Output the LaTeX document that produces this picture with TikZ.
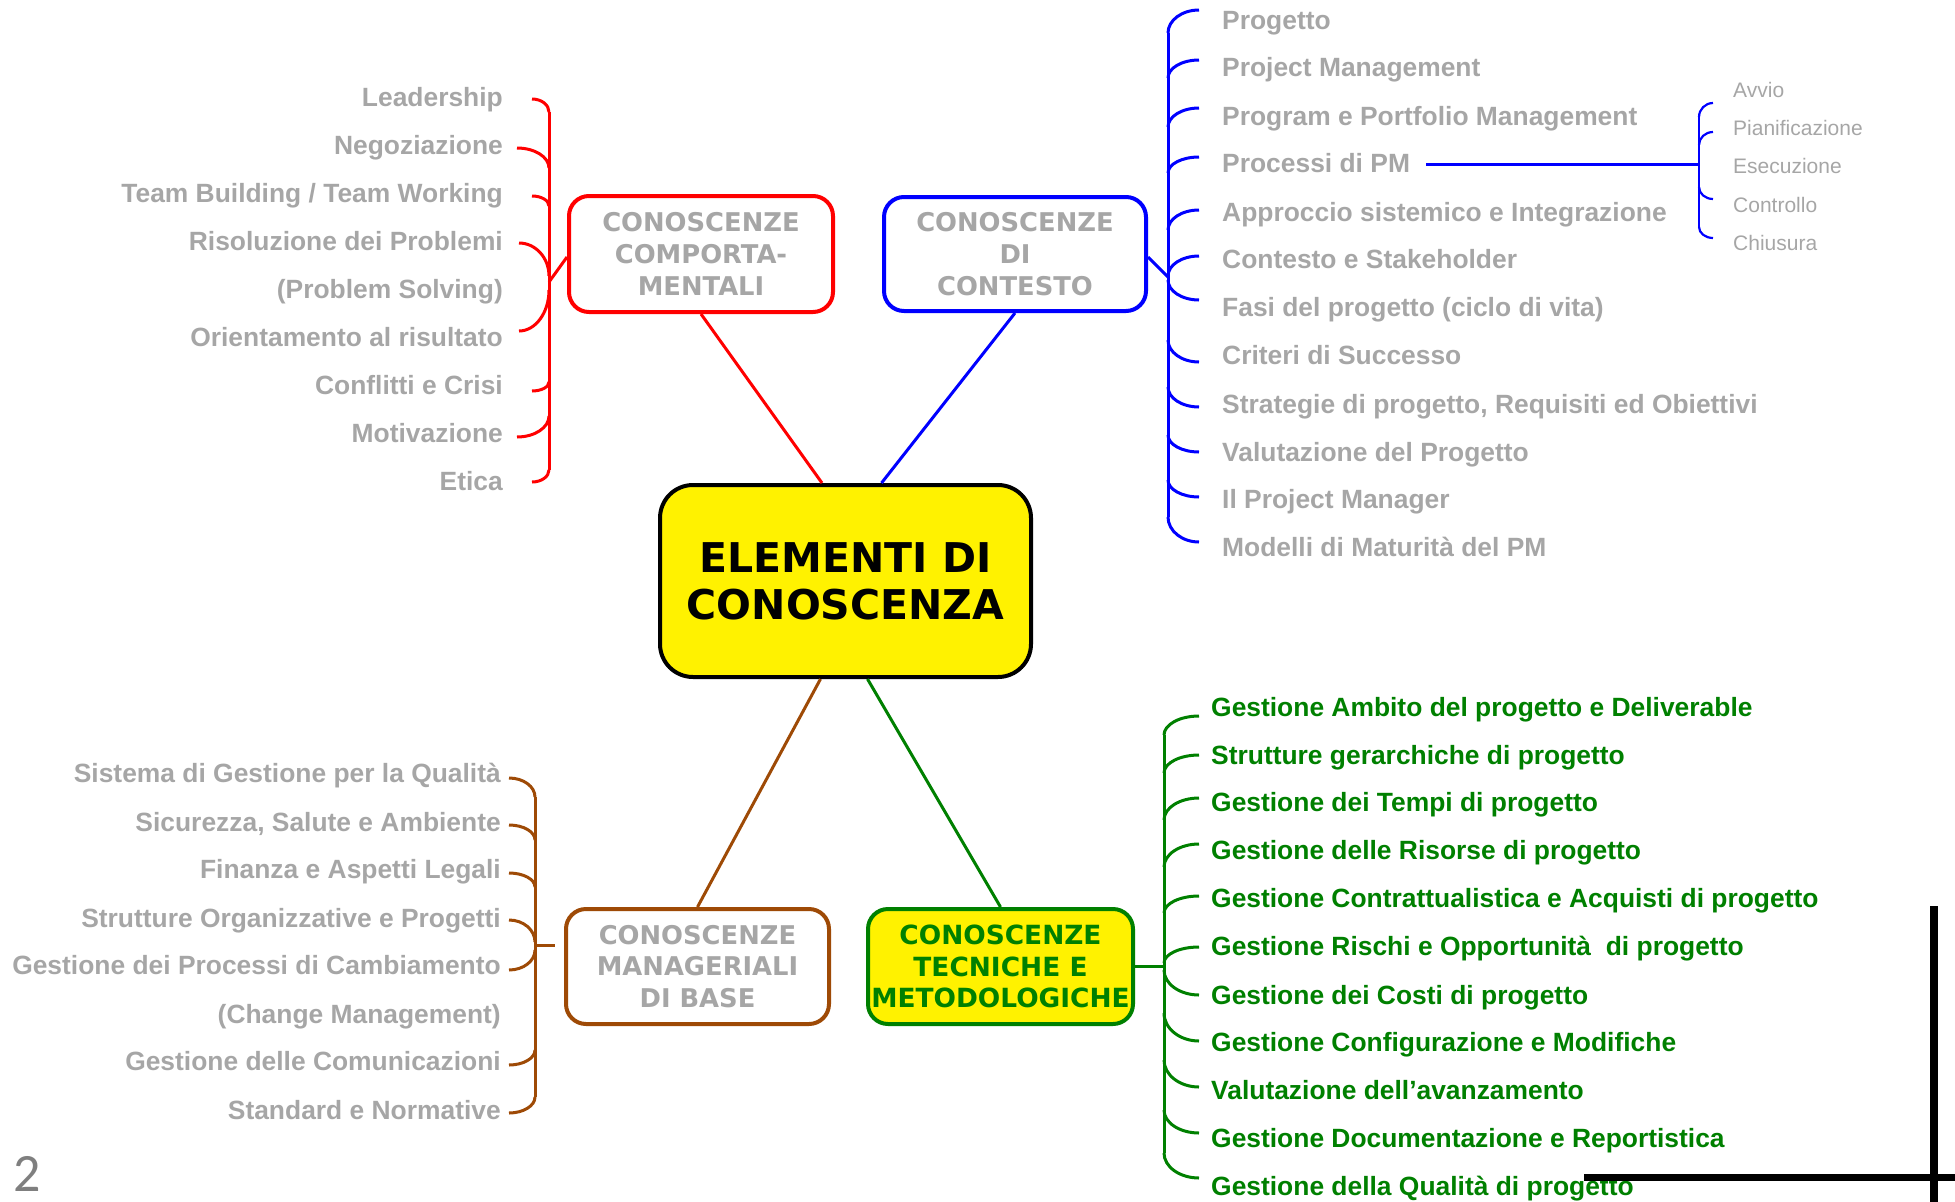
\documentclass[tikz,border=0pt]{standalone}
\usepackage{fontspec}
\setmainfont{Liberation Sans}
\newfontfamily\boxfont{DejaVu Sans}
\newfontfamily\pagefont{Carlito}
\usetikzlibrary{calc}
\definecolor{txtgray}{RGB}{166,166,166}
\definecolor{mgreen}{RGB}{0,128,0}
\definecolor{mbrown}{RGB}{158,74,6}
\definecolor{pgray}{RGB}{127,127,127}
\newcommand\brtick[5]{\draw[brk,#1] (#2,#3) .. controls (#2,{#3+0.552*(#5-#3)}) and ({#4+0.552*(#2-#4)},#5) .. (#4,#5);}
\begin{document}
\begin{tikzpicture}[x=1pt,y=-1pt,
  box/.style={draw, line width=4pt, rounded corners=20pt, fill=white, align=center, inner sep=0pt,
    font=\boxfont\bfseries\fontsize{25.8}{31.7}\selectfont, text=txtgray},
  item/.style={inner sep=0pt, text height=19pt, text depth=0pt,
    font=\bfseries\fontsize{26.4}{30}\selectfont, text=txtgray},
  ritem/.style={item, anchor=east},
  litem/.style={item, anchor=west},
  gitem/.style={item, anchor=west, text=mgreen},
  subitem/.style={inner sep=0pt, text height=15pt, text depth=0pt, anchor=west,
    font=\fontsize{21}{24}\selectfont, text=txtgray},
  brk/.style={line width=3pt},
  sbrk/.style={line width=2.2pt},
  link/.style={line width=3pt},
]
\useasboundingbox (0,0) rectangle (1955,1202);

% ---------------- boxes
\node[box, draw=black, fill=yellow, rounded corners=33pt, minimum width=371pt, minimum height=192pt,
  text=black, font=\boxfont\bfseries\fontsize{41}{47}\selectfont] (main) at (845.5,581) {ELEMENTI DI\\CONOSCENZA};
\node[box, draw=red, minimum width=264pt, minimum height=116pt] (beh) at (701,254) {CONOSCENZE\\COMPORTA-\\MENTALI};
\node[box, draw=blue, minimum width=262pt, minimum height=114pt] (ctx) at (1015,254) {CONOSCENZE\\DI\\CONTESTO};
\node[box, draw=mbrown, minimum width=263pt, minimum height=115pt] (man) at (697.5,966.5) {CONOSCENZE\\MANAGERIALI\\DI BASE};
\node[box, draw=mgreen, fill=yellow, text=mgreen, minimum width=265pt, minimum height=115pt,
  font=\boxfont\bfseries\fontsize{26.4}{31.7}\selectfont] (tec) at (1000.5,966.5) {CONOSCENZE\\TECNICHE E\\METODOLOGICHE};

% ---------------- links to centre
\draw[link,red] (beh.south) -- ([xshift=-23.5pt]main.north);
\draw[link,blue] (ctx.south) -- ([xshift=36pt]main.north);
\draw[link,mbrown] (man.north) -- ([xshift=-25pt]main.south);
\draw[link,mgreen] (tec.north) -- ([xshift=22pt]main.south);

% ---------------- red group
\node[ritem] (r1) at (503,97) {Leadership};
\node[ritem] (r2) at (503,145) {Negoziazione};
\node[ritem] (r3) at (503,193) {Team Building / Team Working};
\node[ritem] (r4) at (503,241) {Risoluzione dei Problemi};
\node[ritem] (r5) at (503,289) {(Problem Solving)};
\node[ritem] (r6) at (503,337) {Orientamento al risultato};
\node[ritem] (r7) at (503,385) {Conflitti e Crisi};
\node[ritem] (r8) at (503,433) {Motivazione};
\node[ritem] (r9) at (503,481) {Etica};
\coordinate (redJ) at (549,282);
\draw[link,red] ([yshift=-3pt]beh.west) -- (redJ);
\draw[brk,red] (549,112) -- (549,470);
\brtick{red}{549}{112}{532}{99}
\brtick{red}{549}{168}{517}{148}
\brtick{red}{549}{206}{532}{196}
\brtick{red}{549}{276}{519}{243}
\brtick{red}{549}{290}{519}{331}
\brtick{red}{549}{382}{532}{391}
\brtick{red}{549}{416}{517}{437}
\brtick{red}{549}{470}{532}{482}

% ---------------- blue group
\node[litem] (b1) at (1222,20) {Progetto};
\node[litem] (b2) at (1222,67) {Project Management};
\node[litem] (b3) at (1222,116) {Program e Portfolio Management};
\node[litem] (b4) at (1222,163) {Processi di PM};
\node[litem] (b5) at (1222,212) {Approccio sistemico e Integrazione};
\node[litem] (b6) at (1222,259) {Contesto e Stakeholder};
\node[litem] (b7) at (1222,307) {Fasi del progetto (ciclo di vita)};
\node[litem] (b8) at (1222,355) {Criteri di Successo};
\node[litem] (b9) at (1222,404) {Strategie di progetto, Requisiti ed Obiettivi};
\node[litem] (b10) at (1222,452) {Valutazione del Progetto};
\node[litem] (b11) at (1222,499) {Il Project Manager};
\node[litem] (b12) at (1222,547) {Modelli di Maturità del PM};
\coordinate (blueJ) at (1168,277);
\draw[link,blue] ([yshift=-3pt]ctx.east) -- (blueJ);
\draw[brk,blue] (1168,33) -- (1168,517);
\brtick{blue}{1168}{33}{1199}{10}
\brtick{blue}{1168}{78}{1199}{60}
\brtick{blue}{1168}{127}{1199}{108}
\brtick{blue}{1168}{173}{1199}{157}
\brtick{blue}{1168}{230}{1199}{210}
\brtick{blue}{1168}{276}{1199}{256}
\brtick{blue}{1168}{280}{1199}{300}
\brtick{blue}{1168}{340}{1199}{362}
\brtick{blue}{1168}{387}{1199}{407}
\brtick{blue}{1168}{435}{1199}{452}
\brtick{blue}{1168}{480}{1199}{497}
\brtick{blue}{1168}{517}{1199}{542}

% ---------------- sub group (Processi di PM)
\node[subitem] (s1) at (1733,90) {Avvio};
\node[subitem] (s2) at (1733,128) {Pianificazione};
\node[subitem] (s3) at (1733,166) {Esecuzione};
\node[subitem] (s4) at (1733,205) {Controllo};
\node[subitem] (s5) at (1733,243) {Chiusura};
\coordinate (subJ) at (1699,164);
\draw[link,blue] ($(subJ -| b4.east)+(16,0)$) -- (subJ);
\draw[sbrk,blue] (1699,117) -- (1699,227);
\begin{scope}[brk/.style={sbrk}]
\brtick{blue}{1699}{117}{1713}{103}
\brtick{blue}{1699}{145}{1713}{132}
\brtick{blue}{1699}{187}{1713}{199}
\brtick{blue}{1699}{227}{1713}{238}
\end{scope}

% ---------------- brown group
\node[ritem] (m1) at (501,773) {Sistema di Gestione per la Qualità};
\node[ritem] (m2) at (501,821.5) {Sicurezza, Salute e Ambiente};
\node[ritem] (m3) at (501,869) {Finanza e Aspetti Legali};
\node[ritem] (m4) at (501,917.5) {Strutture Organizzative e Progetti};
\node[ritem] (m5) at (501,965) {Gestione dei Processi di Cambiamento};
\node[ritem] (m6) at (501,1013.5) {(Change Management)};
\node[ritem] (m7) at (501,1061) {Gestione delle Comunicazioni};
\node[ritem] (m8) at (501,1110) {Standard e Normative};
\coordinate (brownJ) at (535,945);
\draw[brk,mbrown] (brownJ) -- ($(brownJ -| man.west)+(-9,0)$);
\draw[brk,mbrown] (535,797) -- (535,1097);
\brtick{mbrown}{535}{797}{509}{778}
\brtick{mbrown}{535}{840}{509}{825}
\brtick{mbrown}{535}{887}{509}{873}
\brtick{mbrown}{535}{942}{509}{920}
\brtick{mbrown}{535}{950}{509}{970}
\brtick{mbrown}{535}{1050}{509}{1065}
\brtick{mbrown}{535}{1097}{509}{1113}

% ---------------- green group
\node[gitem] (g1) at (1211,707) {Gestione Ambito del progetto e Deliverable};
\node[gitem] (g2) at (1211,755) {Strutture gerarchiche di progetto};
\node[gitem] (g3) at (1211,802) {Gestione dei Tempi di progetto};
\node[gitem] (g4) at (1211,850) {Gestione delle Risorse di progetto};
\node[gitem] (g5) at (1211,898) {Gestione Contrattualistica e Acquisti di progetto};
\node[gitem] (g6) at (1211,946) {Gestione Rischi e Opportunità\ \ di progetto};
\node[gitem] (g7) at (1211,995) {Gestione dei Costi di progetto};
\node[gitem] (g8) at (1211,1042) {Gestione Configurazione e Modifiche};
\node[gitem] (g9) at (1211,1090) {Valutazione dell’avanzamento};
\node[gitem] (g10) at (1211,1138) {Gestione Documentazione e Reportistica};
\node[gitem] (g11) at (1211,1186) {Gestione della Qualità di progetto};
\coordinate (greenJ) at (1164,966);
\draw[brk,mgreen] (greenJ) -- (greenJ -| tec.east);
\draw[brk,mgreen] (1164,735) -- (1164,1153);
\brtick{mgreen}{1164}{735}{1199}{716}
\brtick{mgreen}{1164}{773}{1199}{755}
\brtick{mgreen}{1164}{820}{1199}{798}
\brtick{mgreen}{1164}{867}{1199}{844}
\brtick{mgreen}{1164}{913}{1199}{896}
\brtick{mgreen}{1164}{963}{1199}{947}
\brtick{mgreen}{1164}{970}{1199}{995}
\brtick{mgreen}{1164}{1013}{1199}{1041}
\brtick{mgreen}{1164}{1060}{1199}{1087}
\brtick{mgreen}{1164}{1110}{1199}{1133}
\brtick{mgreen}{1164}{1153}{1199}{1178}

% ---------------- page number and crop marks
\node[font=\pagefont\fontsize{54}{54}\selectfont, text=pgray, anchor=base west, inner sep=0pt] (pg) at (13,1191) {2};
\draw[line width=8pt] (1934,906) -- (1934,1202);
\draw[line width=7pt] (1584,1177.5) -- (1955,1177.5);
\end{tikzpicture}
\end{document}
